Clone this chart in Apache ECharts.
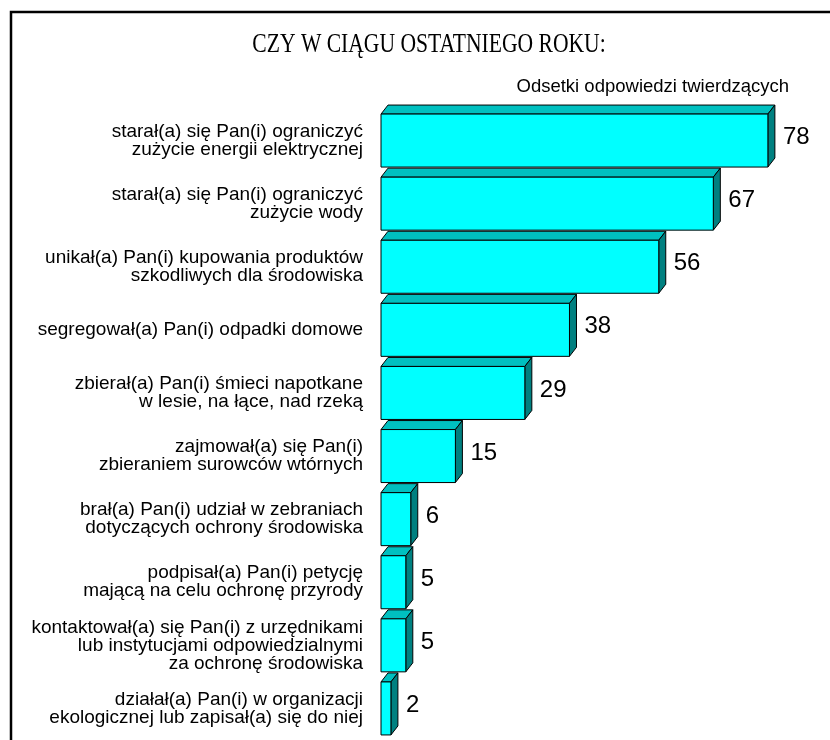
<!DOCTYPE html>
<html><head><meta charset="utf-8">
<script src="https://cdn.jsdelivr.net/npm/echarts@6/dist/echarts.min.js"></script>
<style>html,body{margin:0;padding:0;background:#fff}#c{width:830px;height:740px}</style>
</head><body><div id="c"></div>
<script>
const categories = [
  'starał(a) się Pan(i) ograniczyć\nzużycie energii elektrycznej',
  'starał(a) się Pan(i) ograniczyć\nzużycie wody',
  'unikał(a) Pan(i) kupowania produktów\nszkodliwych dla środowiska',
  'segregował(a) Pan(i) odpadki domowe',
  'zbierał(a) Pan(i) śmieci napotkane\nw lesie, na łące, nad rzeką',
  'zajmował(a) się Pan(i)\nzbieraniem surowców wtórnych',
  'brał(a) Pan(i) udział w zebraniach\ndotyczących ochrony środowiska',
  'podpisał(a) Pan(i) petycję\nmającą na celu ochronę przyrody',
  'kontaktował(a) się Pan(i) z urzędnikami\nlub instytucjami odpowiedzialnymi\nza ochronę środowiska',
  'działał(a) Pan(i) w organizacji\nekologicznej lub zapisał(a) się do niej'
];
const values = [78, 67, 56, 38, 29, 15, 6, 5, 5, 2];
const titleText = 'CZY W CIĄGU OSTATNIEGO ROKU:';
const subtitleText = 'Odsetki odpowiedzi twierdzących';

const chart = echarts.init(document.getElementById('c'), null, {renderer: 'canvas'});
const DX = 7, DY = 9, H = 53;
function renderItem(params, api) {
  const idx = api.value(0), val = api.value(1);
  const p0 = api.coord([0, idx]);
  const p1 = api.coord([val, idx]);
  const x0 = p0[0], x1 = p1[0], cy = p0[1];
  const top = cy - H / 2, bot = cy + H / 2;
  const st = {stroke: '#000', lineWidth: 1};
  return {
    type: 'group',
    children: [
      {type: 'polygon', shape: {points: [[x0, top], [x0 + DX, top - DY], [x1 + DX, top - DY], [x1, top]]},
       style: Object.assign({fill: '#00C0C0'}, st)},
      {type: 'polygon', shape: {points: [[x1, top], [x1 + DX, top - DY], [x1 + DX, bot - DY], [x1, bot]]},
       style: Object.assign({fill: '#008080'}, st)},
      {type: 'rect', shape: {x: x0, y: top, width: x1 - x0, height: H},
       style: Object.assign({fill: '#00FFFF'}, st)},
      {type: 'text', x: x1 + DX + 8, y: cy - 3,
       style: {text: String(val), fill: '#000', font: '24px "Liberation Sans", Arial, sans-serif',
               textAlign: 'left', textVerticalAlign: 'middle'}}
    ]
  };
}
chart.setOption({
  animation: false,
  backgroundColor: '#fff',
  grid: {left: 381, top: 109, width: 446.4, height: 631},
  xAxis: {type: 'value', min: 0, max: 90, show: false},
  yAxis: {
    type: 'category', data: categories, inverse: true,
    axisLine: {show: false}, axisTick: {show: false}, splitLine: {show: false},
    axisLabel: {margin: 18, color: '#000', fontSize: 19, lineHeight: 18, padding: [0, 0, 4, 0],
                fontFamily: '"Liberation Sans", Arial, sans-serif', align: 'right'}
  },
  series: [{
    type: 'custom', renderItem: renderItem,
    data: values.map((v, i) => [i, v]),
    encode: {x: 1, y: 0}, clip: false
  }],
  graphic: [
    {type: 'rect', shape: {x: 11, y: 12, width: 840, height: 800}, style: {fill: 'none', stroke: '#000', lineWidth: 2.5}, silent: true},
    {type: 'text', x: 429, y: 45, scaleX: 0.8, originX: 0, originY: 0,
     style: {text: titleText, fill: '#000', font: '27px "Liberation Serif", "Times New Roman", serif',
             textAlign: 'center', textVerticalAlign: 'middle'}},
    {type: 'text', x: 789, y: 87,
     style: {text: subtitleText, fill: '#000', font: '18.5px "Liberation Sans", Arial, sans-serif',
             textAlign: 'right', textVerticalAlign: 'middle'}}
  ]
});
</script></body></html>
